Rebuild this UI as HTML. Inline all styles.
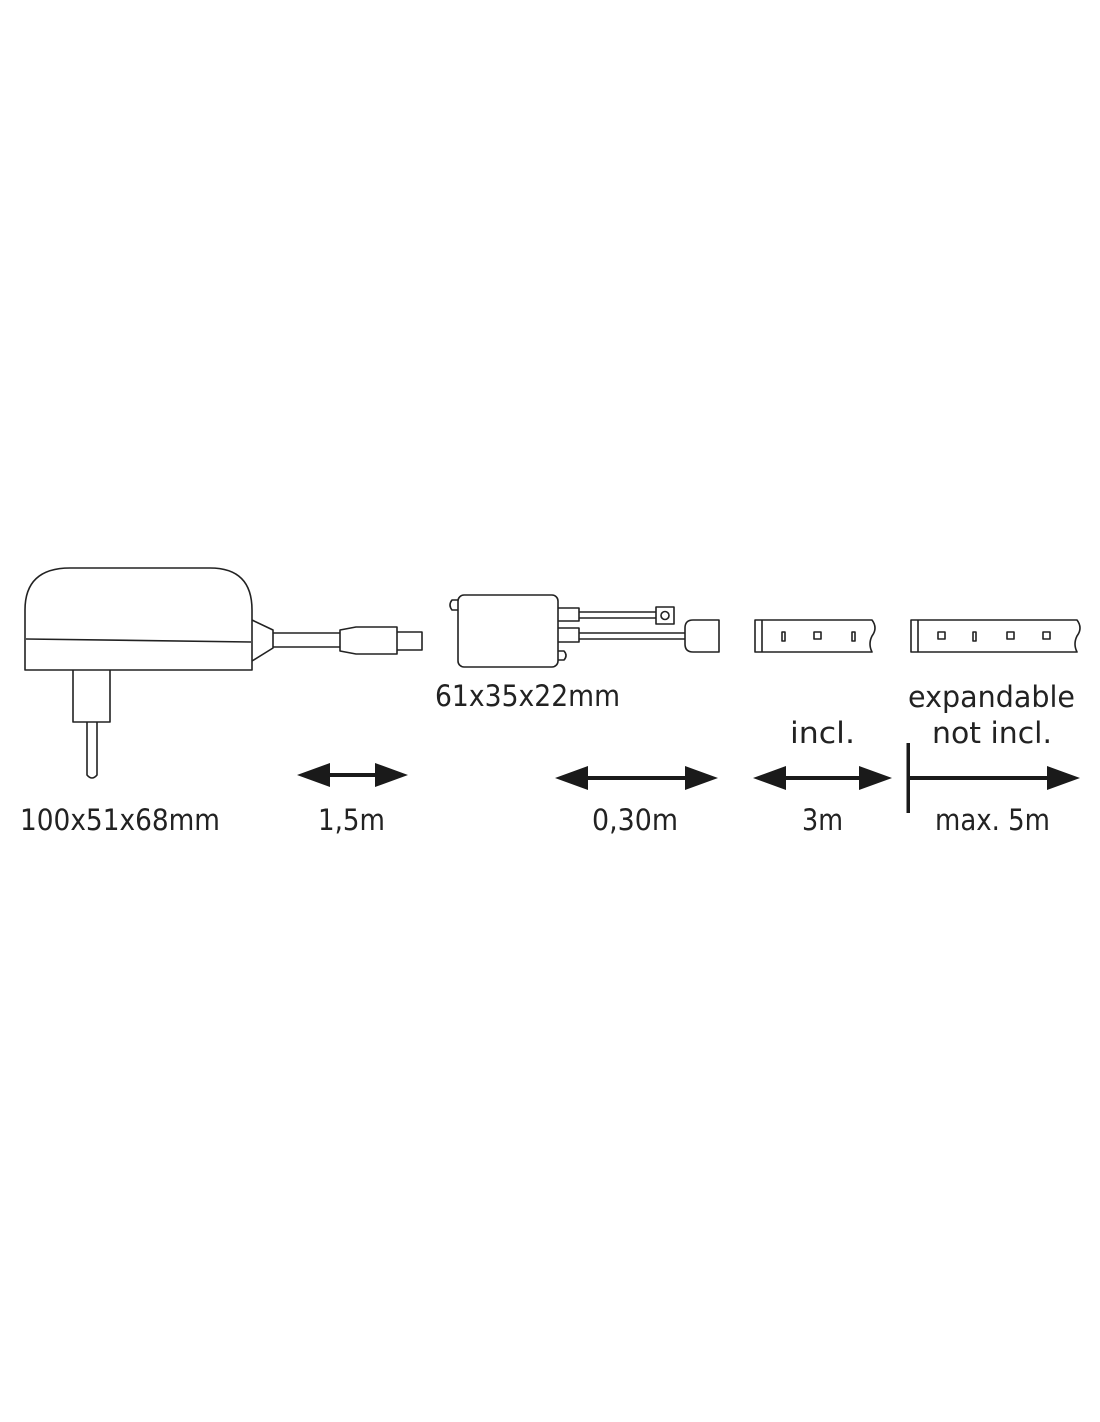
<!DOCTYPE html>
<html><head><style>html,body{margin:0;padding:0;background:#fff}</style></head>
<body>
<svg width="1100" height="1422" viewBox="0 0 1100 1422" xmlns="http://www.w3.org/2000/svg" style="display:block">
<g fill="none" stroke="#222" stroke-width="1.6" stroke-linejoin="round">
<!-- adapter -->
<path d="M25 670 L25 610 Q25 568 70 568 L210 568 Q252 568 252 610 L252 670 Z" fill="#fff"/>
<path d="M26 639 L251 642"/>
<path d="M73 670 V722 H110 V670"/>
<path d="M87 722 V775 Q92 781 97 775 V722"/>
<path d="M252 620 L273 630 V648 L252 661"/>
<path d="M273 633 H340 M273 647 H340"/>
<path d="M340 630 L356 627 H397 V654 H356 L340 651 Z"/>
<path d="M397 632 H422 V650 H397"/>
<!-- controller -->
<rect x="458" y="595" width="100" height="72" rx="6" fill="#fff"/>
<path d="M458 600 H452 Q448 605 452 610 H458"/>
<path d="M558 651 H564 Q568 655.5 564 660 H558"/>
<path d="M558 608 H579 V621 H558"/>
<path d="M558 628 H579 V642 H558"/>
<path d="M579 612 H656 M579 618 H656"/>
<rect x="656" y="607" width="18" height="17"/>
<circle cx="665" cy="615.5" r="4"/>
<path d="M579 633 H685 M579 639 H685"/>
<path d="M719 620 H693 Q685 620 685 628 V644 Q685 652 693 652 H719 Z"/>
<!-- strip 1 -->
<path d="M755 620 H872 Q878 628 872 636 Q868 644 872 652 H755 Z"/>
<path d="M762 620 V652"/>
<rect x="782" y="632" width="3" height="9"/>
<rect x="814" y="632" width="7" height="7"/>
<rect x="852" y="632" width="3" height="9"/>
<!-- strip 2 -->
<path d="M911 620 H1077 Q1083 628 1077 636 Q1073 644 1077 652 H911 Z"/>
<path d="M918 620 V652"/>
<rect x="938" y="632" width="7" height="7"/>
<rect x="973" y="632" width="3" height="9"/>
<rect x="1007" y="632" width="7" height="7"/>
<rect x="1043" y="632" width="7" height="7"/>
</g>
<g fill="#1a1a1a">
<path d="M297 775 L330 763 V773 H375 V763 L408 775 L375 787 V777 H330 V787 Z"/>
<path d="M555 778 L588 766 V776 H685 V766 L718 778 L685 790 V780 H588 V790 Z"/>
<path d="M753 778 L786 766 V776 H859 V766 L892 778 L859 790 V780 H786 V790 Z"/>
<rect x="906.5" y="743" width="3.5" height="70"/>
<path d="M908 776 H1047 V766 L1080 778 L1047 790 V780 H908 Z"/>
</g>
<g fill="#222" font-family="'DejaVu Sans','Liberation Sans',sans-serif" font-size="29">
<text x="20" y="830" textLength="200" lengthAdjust="spacingAndGlyphs">100x51x68mm</text>
<text x="318" y="830" textLength="67" lengthAdjust="spacingAndGlyphs">1,5m</text>
<text x="435" y="706" textLength="185" lengthAdjust="spacingAndGlyphs">61x35x22mm</text>
<text x="592" y="830" textLength="86" lengthAdjust="spacingAndGlyphs">0,30m</text>
<text x="790" y="743" textLength="65" lengthAdjust="spacingAndGlyphs">incl.</text>
<text x="802" y="830" textLength="41" lengthAdjust="spacingAndGlyphs">3m</text>
<text x="908" y="707" textLength="167" lengthAdjust="spacingAndGlyphs">expandable</text>
<text x="932" y="743" textLength="120" lengthAdjust="spacingAndGlyphs">not incl.</text>
<text x="935" y="830" textLength="115" lengthAdjust="spacingAndGlyphs">max. 5m</text>
</g>
</svg>
</body></html>
